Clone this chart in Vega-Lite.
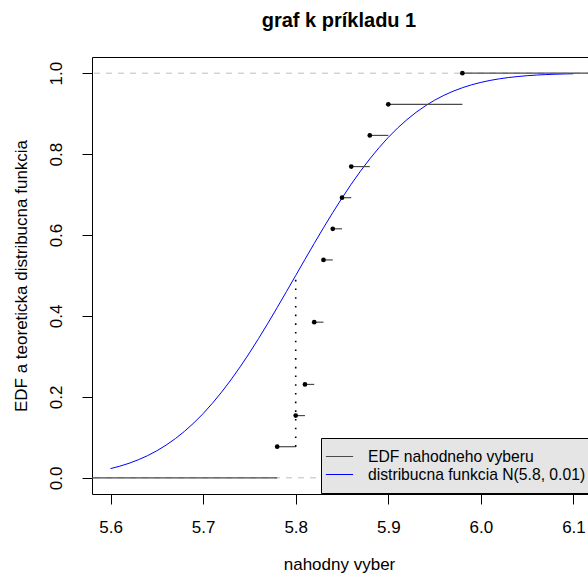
{
  "$schema": "https://vega.github.io/schema/vega-lite/v6.json",
  "autosize": {"type": "none"},
  "padding": {"left": 92, "top": 57, "right": 0, "bottom": 86},
  "width": 500,
  "height": 437,
  "background": "white",
  "title": {
    "text": "graf k príkladu 1",
    "anchor": "middle",
    "frame": "group",
    "font": "Liberation Sans",
    "fontSize": 20,
    "fontWeight": "bold",
    "color": "black",
    "baseline": "alphabetic",
    "offset": 10,
    "dx": -3
  },
  "config": {
    "view": {"stroke": "black", "strokeWidth": 1},
    "axis": {
      "domain": false,
      "grid": false,
      "ticks": true,
      "tickColor": "black",
      "tickSize": 10,
      "labelFont": "Liberation Sans",
      "labelFontSize": 17,
      "labelColor": "black",
      "titleFont": "Liberation Sans",
      "titleFontSize": 17,
      "titleFontWeight": "normal",
      "titleColor": "black"
    }
  },
  "datasets": {
    "curve": [
      {"x": 5.60, "p": 0.02275}, {"x": 5.61, "p": 0.02872}, {"x": 5.62, "p": 0.03593},
      {"x": 5.63, "p": 0.04457}, {"x": 5.64, "p": 0.05480}, {"x": 5.65, "p": 0.06681},
      {"x": 5.66, "p": 0.08076}, {"x": 5.67, "p": 0.09680}, {"x": 5.68, "p": 0.11507},
      {"x": 5.69, "p": 0.13567}, {"x": 5.70, "p": 0.15866}, {"x": 5.71, "p": 0.18406},
      {"x": 5.72, "p": 0.21186}, {"x": 5.73, "p": 0.24196}, {"x": 5.74, "p": 0.27425},
      {"x": 5.75, "p": 0.30854}, {"x": 5.76, "p": 0.34458}, {"x": 5.77, "p": 0.38209},
      {"x": 5.78, "p": 0.42074}, {"x": 5.79, "p": 0.46017}, {"x": 5.80, "p": 0.5},
      {"x": 5.81, "p": 0.53983}, {"x": 5.82, "p": 0.57926}, {"x": 5.83, "p": 0.61791},
      {"x": 5.84, "p": 0.65542}, {"x": 5.85, "p": 0.69146}, {"x": 5.86, "p": 0.72575},
      {"x": 5.87, "p": 0.75804}, {"x": 5.88, "p": 0.78814}, {"x": 5.89, "p": 0.81594},
      {"x": 5.90, "p": 0.84134}, {"x": 5.91, "p": 0.86433}, {"x": 5.92, "p": 0.88493},
      {"x": 5.93, "p": 0.90320}, {"x": 5.94, "p": 0.91924}, {"x": 5.95, "p": 0.93319},
      {"x": 5.96, "p": 0.94520}, {"x": 5.97, "p": 0.95543}, {"x": 5.98, "p": 0.96407},
      {"x": 5.99, "p": 0.97128}, {"x": 6.00, "p": 0.97725}, {"x": 6.01, "p": 0.98214},
      {"x": 6.02, "p": 0.98610}, {"x": 6.03, "p": 0.98928}, {"x": 6.04, "p": 0.99180},
      {"x": 6.05, "p": 0.99379}, {"x": 6.06, "p": 0.99534}, {"x": 6.07, "p": 0.99653},
      {"x": 6.08, "p": 0.99744}, {"x": 6.09, "p": 0.99813}, {"x": 6.10, "p": 0.99865}
    ],
    "steps": [
      {"x": 5.50, "x2": 5.78, "y": 0},
      {"x": 5.78, "x2": 5.80, "y": 0.0769},
      {"x": 5.80, "x2": 5.81, "y": 0.1538},
      {"x": 5.81, "x2": 5.82, "y": 0.2308},
      {"x": 5.82, "x2": 5.83, "y": 0.3846},
      {"x": 5.83, "x2": 5.84, "y": 0.5385},
      {"x": 5.84, "x2": 5.85, "y": 0.6154},
      {"x": 5.85, "x2": 5.86, "y": 0.6923},
      {"x": 5.86, "x2": 5.88, "y": 0.7692},
      {"x": 5.88, "x2": 5.90, "y": 0.8462},
      {"x": 5.90, "x2": 5.98, "y": 0.9231},
      {"x": 5.98, "x2": 6.30, "y": 1.0}
    ],
    "points": [
      {"x": 5.78, "y": 0.0769}, {"x": 5.80, "y": 0.1538}, {"x": 5.81, "y": 0.2308},
      {"x": 5.82, "y": 0.3846}, {"x": 5.83, "y": 0.5385}, {"x": 5.84, "y": 0.6154},
      {"x": 5.85, "y": 0.6923}, {"x": 5.86, "y": 0.7692}, {"x": 5.88, "y": 0.8462},
      {"x": 5.90, "y": 0.9231}, {"x": 5.98, "y": 1.0}
    ],
    "reflines": [{"y": 0}, {"y": 1}],
    "median": [{"x": 5.8, "y": 0.0769, "y2": 0.5}]
  },
  "encoding": {
    "x": {
      "field": "x", "type": "quantitative",
      "scale": {"domain": [5.58, 6.12], "nice": false, "zero": false},
      "axis": {
        "values": [5.6, 5.7, 5.8, 5.9, 6.0, 6.1],
        "format": ".1f",
        "labelPadding": 15,
        "title": "nahodny vyber",
        "titleX": 247,
        "titleY": 75,
        "titleAlign": "center",
        "titleBaseline": "alphabetic",
        "labelFlush": false
      }
    },
    "y": {
      "field": "y", "type": "quantitative",
      "scale": {"domain": [-0.04, 1.04], "nice": false, "zero": false},
      "axis": {
        "values": [0, 0.2, 0.4, 0.6, 0.8, 1.0],
        "format": ".1f",
        "labelAngle": 270,
        "labelAlign": "center",
        "labelBaseline": "alphabetic",
        "labelPadding": 21,
        "labelFlush": false,
        "title": "EDF a teoreticka distribucna funkcia",
        "titleAngle": 270,
        "titleX": -66,
        "titleY": 218.5,
        "titleAlign": "center",
        "titleBaseline": "alphabetic"
      }
    }
  },
  "layer": [
    {
      "data": {"name": "curve"},
      "mark": {"type": "line", "strokeWidth": 1, "clip": true},
      "encoding": {
        "y": {"field": "p", "type": "quantitative"},
        "color": {
          "datum": "distribucna funkcia N(5.8, 0.01)",
          "type": "nominal",
          "scale": {
            "domain": ["EDF nahodneho vyberu", "distribucna funkcia N(5.8, 0.01)"],
            "range": ["#4a4a4a", "#0000ff"]
          },
          "legend": {
            "orient": "none",
            "legendX": 229,
            "legendY": 381,
            "title": null,
            "fillColor": "#e5e5e5",
            "strokeColor": "black",
            "padding": 10,
            "symbolType": "M-1.7,0H1.7",
            "symbolSize": 256,
            "symbolStrokeWidth": 1,
            "symbolFillColor": "transparent",
            "labelFont": "Liberation Sans",
            "labelFontSize": 15.7,
            "labelColor": "black",
            "labelOffset": 20,
            "rowPadding": 1,
            "labelLimit": 400
          }
        }
      }
    },
    {
      "data": {"name": "reflines"},
      "mark": {"type": "rule", "color": "#bdbdbd", "strokeDash": [6, 6], "strokeWidth": 1},
      "encoding": {"x": null}
    },
    {
      "data": {"name": "steps"},
      "mark": {"type": "rule", "strokeWidth": 1.2, "clip": true},
      "encoding": {
        "x2": {"field": "x2"},
        "color": {"datum": "EDF nahodneho vyberu", "type": "nominal"}
      }
    },
    {
      "data": {"name": "median"},
      "mark": {"type": "rule", "color": "black", "strokeWidth": 1.6, "strokeDash": [1.6, 7.1]},
      "encoding": {"y2": {"field": "y2"}}
    },
    {
      "data": {"name": "points"},
      "mark": {"type": "point", "shape": "circle", "filled": true, "color": "black", "opacity": 1, "size": 22}
    }
  ]
}
